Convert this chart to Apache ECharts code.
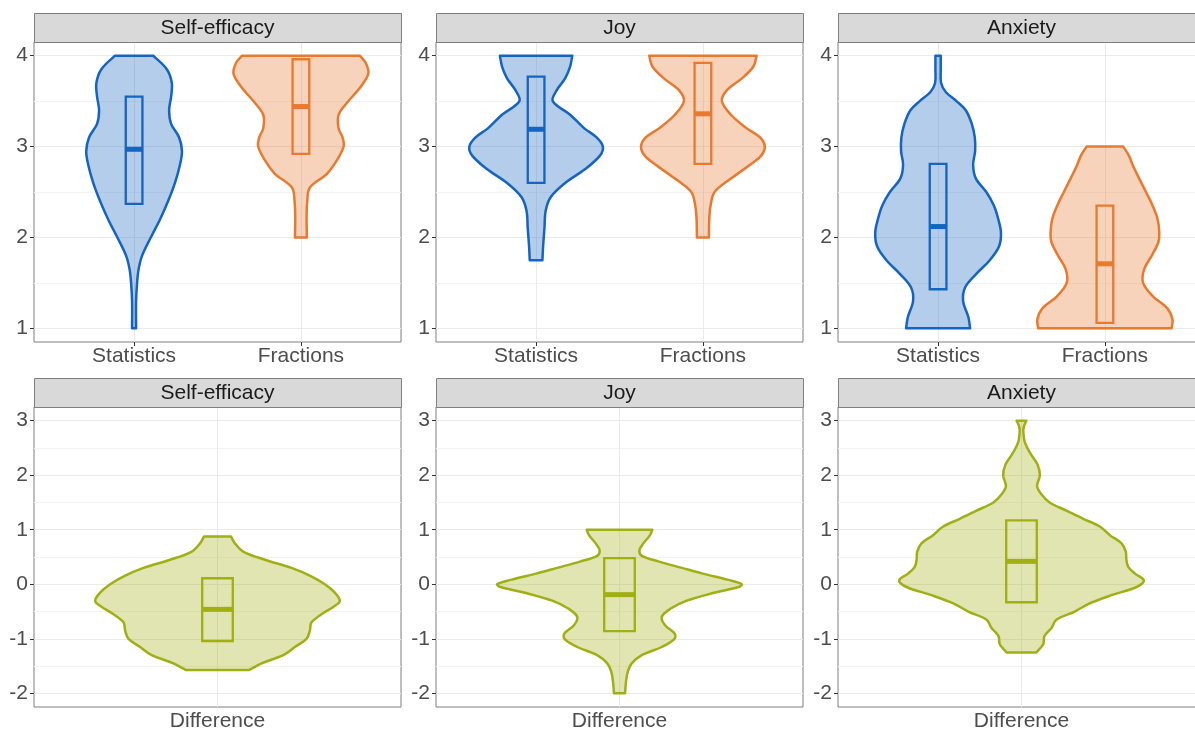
<!DOCTYPE html>
<html>
<head>
<meta charset="utf-8">
<script src="https://cdn.jsdelivr.net/npm/echarts@6/dist/echarts.min.js"></script>
<style>
  html, body { margin: 0; padding: 0; background: #fff; }
  #main { width: 1195px; height: 729px; }
</style>
</head>
<body>
<div id="main"></div>
<script type="text/javascript">
    // facet titles and axis labels
    var panelTitles = ['Self-efficacy', 'Joy', 'Anxiety'];
    var groupNames = ['Statistics', 'Fractions'];
    var diffNames = ['Difference'];
    var topTicks = [1, 2, 3, 4];
    var topMinor = [1.5, 2.5, 3.5];
    var bottomTicks = [-2, -1, 0, 1, 2, 3];
    var bottomMinor = [-1.5, -0.5, 0.5, 1.5, 2.5];

    // violin profiles: y value and half width (x axis units)
    var seStatY = [1.0, 1.3, 1.5, 1.65, 1.8, 2.0, 2.2, 2.4, 2.6, 2.8, 2.95, 3.1, 3.25, 3.4, 3.55, 3.7, 3.85, 4.0];
    var seStatW = [0.012, 0.012, 0.018, 0.027, 0.048, 0.10, 0.156, 0.204, 0.245, 0.275, 0.287, 0.27, 0.222, 0.21, 0.222, 0.226, 0.196, 0.115];
    var seFracY = [2.0, 2.2, 2.4, 2.55, 2.7, 2.85, 3.0, 3.1, 3.2, 3.35, 3.5, 3.65, 3.8, 3.92, 4.0];
    var seFracW = [0.036, 0.034, 0.038, 0.054, 0.156, 0.216, 0.256, 0.25, 0.226, 0.226, 0.285, 0.355, 0.404, 0.389, 0.353];

    var joyStatY = [1.75, 1.9, 2.1, 2.3, 2.45, 2.6, 2.75, 2.9, 3.0, 3.1, 3.2, 3.35, 3.5, 3.62, 3.75, 3.88, 4.0];
    var joyStatW = [0.038, 0.042, 0.05, 0.058, 0.09, 0.174, 0.293, 0.383, 0.40, 0.363, 0.289, 0.204, 0.1, 0.124, 0.174, 0.204, 0.217];
    var joyFracY = [2.0, 2.2, 2.35, 2.5, 2.65, 2.8, 2.9, 3.0, 3.1, 3.2, 3.35, 3.5, 3.62, 3.75, 3.88, 4.0];
    var joyFracW = [0.036, 0.038, 0.046, 0.07, 0.17, 0.283, 0.349, 0.371, 0.343, 0.263, 0.168, 0.114, 0.144, 0.234, 0.303, 0.322];

    var anxStatY = [1.0, 1.12, 1.3, 1.45, 1.6, 1.75, 1.9, 2.05, 2.2, 2.35, 2.5, 2.65, 2.8, 2.95, 3.1, 3.25, 3.4, 3.5, 3.6, 3.7, 3.85, 4.0];
    var anxStatW = [0.192, 0.182, 0.15, 0.162, 0.229, 0.31, 0.365, 0.377, 0.361, 0.335, 0.289, 0.226, 0.21, 0.222, 0.22, 0.202, 0.166, 0.11, 0.046, 0.018, 0.016, 0.016];
    var anxFracY = [1.0, 1.1, 1.22, 1.35, 1.5, 1.65, 1.8, 1.95, 2.05, 2.2, 2.35, 2.5, 2.65, 2.8, 2.9, 3.0];
    var anxFracW = [0.40, 0.405, 0.375, 0.289, 0.229, 0.235, 0.281, 0.321, 0.326, 0.316, 0.286, 0.246, 0.205, 0.166, 0.144, 0.11];

    var diffSeY = [-1.57, -1.45, -1.3, -1.15, -1.0, -0.85, -0.7, -0.55, -0.4, -0.3, -0.15, 0.0, 0.15, 0.3, 0.45, 0.6, 0.75, 0.876];
    var diffSeW = [0.104, 0.144, 0.215, 0.253, 0.291, 0.302, 0.307, 0.34, 0.383, 0.40, 0.383, 0.351, 0.305, 0.242, 0.155, 0.084, 0.057, 0.044];
    var diffJoyY = [-2.0, -1.8, -1.6, -1.45, -1.3, -1.15, -1.0, -0.9, -0.75, -0.6, -0.45, -0.3, -0.15, -0.05, 0.0, 0.08, 0.2, 0.3, 0.42, 0.52, 0.62, 0.75, 0.9, 1.0];
    var diffJoyW = [0.018, 0.021, 0.027, 0.04, 0.073, 0.138, 0.18, 0.18, 0.149, 0.138, 0.166, 0.22, 0.313, 0.389, 0.40, 0.356, 0.269, 0.204, 0.127, 0.073, 0.065, 0.078, 0.1, 0.107];
    var diffAnxY = [-1.25, -1.1, -0.95, -0.8, -0.65, -0.5, -0.35, -0.2, -0.05, 0.07, 0.2, 0.32, 0.45, 0.6, 0.75, 0.9, 1.06, 1.2, 1.35, 1.5, 1.65, 1.8, 2.0, 2.2, 2.4, 2.6, 2.8, 2.9, 3.0];
    var diffAnxW = [0.049, 0.071, 0.075, 0.098, 0.114, 0.174, 0.223, 0.294, 0.376, 0.40, 0.37, 0.349, 0.343, 0.341, 0.327, 0.289, 0.256, 0.202, 0.147, 0.092, 0.065, 0.051, 0.06, 0.052, 0.029, 0.011, 0.006, 0.008, 0.016];

    // box: [q1, median, q3]
    var seStatBox = [2.37, 2.97, 3.55];
    var seFracBox = [2.92, 3.44, 3.96];
    var joyStatBox = [2.60, 3.19, 3.77];
    var joyFracBox = [2.81, 3.36, 3.92];
    var anxStatBox = [1.43, 2.12, 2.81];
    var anxFracBox = [1.06, 1.71, 2.35];
    var diffSeBox = [-1.04, -0.46, 0.11];
    var diffJoyBox = [-0.86, -0.19, 0.48];
    var diffAnxBox = [-0.33, 0.42, 1.17];

    var blue = {line: '#1565c0', fill: 'rgba(21,101,192,0.32)'};
    var orange = {line: '#e87a30', fill: 'rgba(232,122,48,0.33)'};
    var green = {line: '#a0af14', fill: 'rgba(160,175,20,0.33)'};

    var violins = [
        {g: 0, x: 1, y: seStatY, w: seStatW, box: seStatBox, c: blue},
        {g: 0, x: 2, y: seFracY, w: seFracW, box: seFracBox, c: orange},
        {g: 1, x: 1, y: joyStatY, w: joyStatW, box: joyStatBox, c: blue},
        {g: 1, x: 2, y: joyFracY, w: joyFracW, box: joyFracBox, c: orange},
        {g: 2, x: 1, y: anxStatY, w: anxStatW, box: anxStatBox, c: blue},
        {g: 2, x: 2, y: anxFracY, w: anxFracW, box: anxFracBox, c: orange},
        {g: 3, x: 1, y: diffSeY, w: diffSeW, box: diffSeBox, c: green},
        {g: 4, x: 1, y: diffJoyY, w: diffJoyW, box: diffJoyBox, c: green},
        {g: 5, x: 1, y: diffAnxY, w: diffAnxW, box: diffAnxBox, c: green}
    ];

    var font = "'Liberation Sans', Arial, sans-serif";
    var panelLeft = [34, 436, 838];
    var rowTop = [42, 407];
    var panelW = 367, panelH = 300, stripH = 29;
    var boxHalf = 0.05;

    var grids = [], xAxes = [], yAxes = [], series = [], graphics = [];

    for (var r = 0; r < 2; r++) {
        for (var c = 0; c < 3; c++) {
            var idx = r * 3 + c;
            var xTicks = r === 0 ? [1, 2] : [1];
            var xNames = r === 0 ? groupNames : diffNames;
            var yTicks = r === 0 ? topTicks : bottomTicks;
            var yMinor = r === 0 ? topMinor : bottomMinor;
            grids.push({
                left: panelLeft[c], top: rowTop[r], width: panelW, height: panelH,
                outerBoundsMode: 'none', containLabel: false,
                show: true, borderColor: '#7f7f7f', borderWidth: 1, backgroundColor: 'transparent'
            });
            xAxes.push({
                gridIndex: idx, type: 'value',
                min: 0.4, max: r === 0 ? 2.6 : 1.6,
                axisLine: {show: false},
                splitLine: {show: false},
                axisTick: {customValues: xTicks, length: 4, lineStyle: {color: '#333'}},
                axisLabel: {
                    customValues: xTicks, margin: 4, fontSize: 21, color: '#4d4d4d', fontFamily: font,
                    formatter: (function (names) {
                        return function (v) { return names[Math.round(v) - 1]; };
                    })(xNames)
                }
            });
            yAxes.push({
                gridIndex: idx, type: 'value',
                min: r === 0 ? 0.85 : -2.25, max: r === 0 ? 4.15 : 3.25,
                axisLine: {show: false},
                splitLine: {show: false},
                axisTick: {customValues: yTicks, length: 4, lineStyle: {color: '#333'}},
                axisLabel: {customValues: yTicks, margin: 6, fontSize: 21, color: '#4d4d4d', fontFamily: font}
            });

            // grid lines
            var lines = [];
            yMinor.forEach(function (v) {
                lines.push({yAxis: v, lineStyle: {color: '#f3f3f3', width: 1, type: 'solid'}});
            });
            yTicks.forEach(function (v) {
                lines.push({yAxis: v, lineStyle: {color: '#ebebeb', width: 1, type: 'solid'}});
            });
            xTicks.forEach(function (v) {
                lines.push({xAxis: v, lineStyle: {color: '#ebebeb', width: 1, type: 'solid'}});
            });
            series.push({
                type: 'line', xAxisIndex: idx, yAxisIndex: idx, data: [], silent: true, z: 1,
                markLine: {silent: true, symbol: 'none', z: 1, label: {show: false}, animation: false, data: lines}
            });

            // strip
            graphics.push({
                type: 'rect', z: 10,
                shape: {x: panelLeft[c] + 0.5, y: rowTop[r] - stripH + 0.5, width: panelW, height: stripH},
                style: {fill: '#d9d9d9', stroke: '#7f7f7f', lineWidth: 1}
            });
            graphics.push({
                type: 'text', z: 11,
                x: panelLeft[c] + panelW / 2, y: rowTop[r] - stripH / 2 + 1,
                style: {
                    text: panelTitles[c], fill: '#1a1a1a', font: '21px ' + font,
                    textAlign: 'center', textVerticalAlign: 'middle'
                }
            });
        }
    }

    violins.forEach(function (v) {
        series.push({
            type: 'custom', xAxisIndex: v.g, yAxisIndex: v.g, z: 3,
            data: [[v.x, v.box[1]]],
            renderItem: function (params, api) {
                var left = [], right = [];
                for (var i = 0; i < v.y.length; i++) {
                    left.push(api.coord([v.x - v.w[i], v.y[i]]));
                    right.unshift(api.coord([v.x + v.w[i], v.y[i]]));
                }
                // repeat end points so the trimmed ends stay flat with sharp corners
                left.unshift(left[0]);
                left.push(left[left.length - 1]);
                right.unshift(right[0]);
                right.push(right[right.length - 1]);
                var pts = left.concat(right);
                var b1 = api.coord([v.x - boxHalf, v.box[2]]);
                var b2 = api.coord([v.x + boxHalf, v.box[0]]);
                var m1 = api.coord([v.x - boxHalf, v.box[1]]);
                var m2 = api.coord([v.x + boxHalf, v.box[1]]);
                return {
                    type: 'group',
                    children: [
                        {
                            type: 'polygon',
                            shape: {points: pts, smooth: 0.35},
                            style: {fill: v.c.fill, stroke: v.c.line, lineWidth: 2.5, lineJoin: 'round'}
                        },
                        {
                            type: 'rect',
                            shape: {x: b1[0], y: b1[1], width: b2[0] - b1[0], height: b2[1] - b1[1]},
                            style: {fill: 'none', stroke: v.c.line, lineWidth: 2.3}
                        },
                        {
                            type: 'line',
                            shape: {x1: m1[0], y1: m1[1], x2: m2[0], y2: m2[1]},
                            style: {stroke: v.c.line, lineWidth: 5}
                        }
                    ]
                };
            }
        });
    });

    var myChart = echarts.init(document.getElementById('main'));
    var option = {
        backgroundColor: '#ffffff',
        animation: false,
        grid: grids,
        xAxis: xAxes,
        yAxis: yAxes,
        graphic: graphics,
        series: series
    };
    myChart.setOption(option);
    window.onresize = function () {
        myChart.resize();
    };
</script>
</body>
</html>
